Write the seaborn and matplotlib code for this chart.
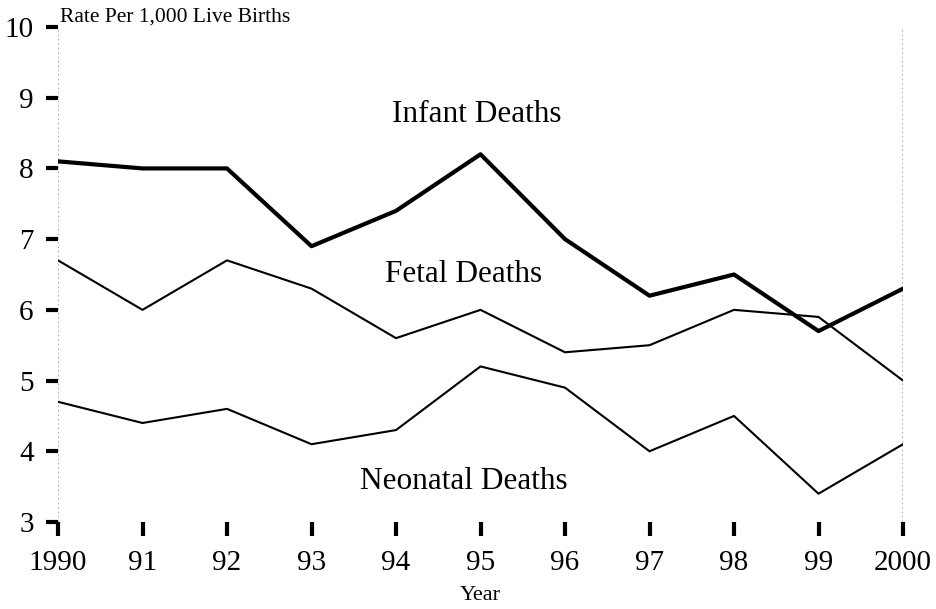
import numpy as np
import pandas as pd
import seaborn as sns
import matplotlib
matplotlib.use("Agg")
import matplotlib.pyplot as plt

years = [1990, 1991, 1992, 1993, 1994, 1995, 1996, 1997, 1998, 1999, 2000]
year_labels = ['1990', '91', '92', '93', '94', '95', '96', '97', '98', '99', '2000']
infant = [8.1, 8.0, 8.0, 6.9, 7.4, 8.2, 7.0, 6.2, 6.5, 5.7, 6.3]
fetal = [6.7, 6.0, 6.7, 6.3, 5.6, 6.0, 5.4, 5.5, 6.0, 5.9, 5.0]
neonatal = [4.7, 4.4, 4.6, 4.1, 4.3, 5.2, 4.9, 4.0, 4.5, 3.4, 4.1]
y_ticks = [3, 4, 5, 6, 7, 8, 9, 10]

sns.set_style("white")
plt.rcParams['font.family'] = ['Liberation Serif', 'DejaVu Serif']
plt.rcParams['text.color'] = 'black'
plt.rcParams['axes.labelcolor'] = 'black'
plt.rcParams['xtick.color'] = 'black'
plt.rcParams['ytick.color'] = 'black'

fig = plt.figure(figsize=(9.37, 6.09), dpi=100)
ax = fig.add_axes([58/937, 1 - 522/609, (903-58)/937, (522-27)/609])

df = pd.DataFrame({'year': years, 'Infant': infant, 'Fetal': fetal, 'Neonatal': neonatal})

# dotted guides at both ends
ax.axvline(1990, color='#a0a0a0', ls=':', lw=1.2, zorder=0)
ax.axvline(2000, color='#a0a0a0', ls=':', lw=1.2, zorder=0)

sns.lineplot(data=df, x='year', y='Infant', ax=ax, color='black', lw=3)
sns.lineplot(data=df, x='year', y='Fetal', ax=ax, color='black', lw=1.5)
sns.lineplot(data=df, x='year', y='Neonatal', ax=ax, color='black', lw=1.5)

ax.set_xlim(1990, 2000)
ax.set_ylim(3, 10)
ax.set_xticks(years)
ax.set_xticklabels(year_labels)
ax.set_yticks(y_ticks)

for s in ax.spines.values():
    s.set_visible(False)

ax.tick_params(axis='x', bottom=True, direction='out', length=10, width=3,
               labelsize=21, pad=10.5)
ax.tick_params(axis='y', left=True, direction='out', length=8.5, width=3,
               labelsize=21, pad=9)

ax.set_xlabel('Year', fontsize=16, labelpad=7)
ax.set_ylabel('')
ax.text(0.002, 1.0, 'Rate Per 1,000 Live Births', transform=ax.transAxes,
        fontsize=15.5, ha='left', va='bottom')

ax.text(1994.95, 8.76, 'Infant Deaths', fontsize=22.5, ha='center', va='center')
ax.text(1994.8, 6.5, 'Fetal Deaths', fontsize=22.5, ha='center', va='center')
ax.text(1994.8, 3.57, 'Neonatal Deaths', fontsize=22.5, ha='center', va='center')

fig.savefig('out.png', dpi=100)
